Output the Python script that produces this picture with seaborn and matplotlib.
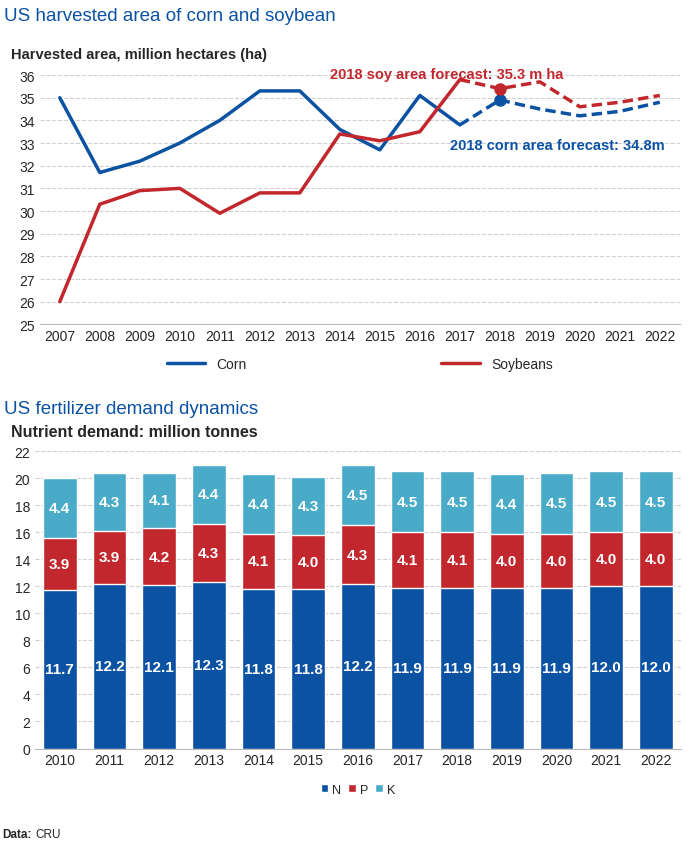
import matplotlib
matplotlib.use("Agg")
import matplotlib.pyplot as plt
import numpy as np
import pandas as pd
import seaborn as sns

sns.set_style("white")
plt.rcParams['font.family'] = ['Liberation Sans', 'DejaVu Sans']

blue = '#0b52a3'
red = '#c1272d'
cyan = '#4aabc8'

years = list(range(2007, 2023))
corn = [35.0, 31.7, 32.2, 33.0, 34.0, 35.3, 35.3, 33.6, 32.7, 35.1, 33.8, 34.9, 34.5, 34.2, 34.4, 34.8]
soy = [26.0, 30.3, 30.9, 31.0, 29.9, 30.8, 30.8, 33.4, 33.1, 33.5, 35.8, 35.4, 35.7, 34.6, 34.8, 35.1]
area = pd.DataFrame({'year': years, 'Corn': corn, 'Soybeans': soy})

fert = pd.DataFrame({
    'year': list(range(2010, 2023)),
    'N': [11.7, 12.2, 12.1, 12.3, 11.8, 11.8, 12.2, 11.9, 11.9, 11.9, 11.9, 12.0, 12.0],
    'P': [3.9, 3.9, 4.2, 4.3, 4.1, 4.0, 4.3, 4.1, 4.1, 4.0, 4.0, 4.0, 4.0],
    'K': [4.4, 4.3, 4.1, 4.4, 4.4, 4.3, 4.5, 4.5, 4.5, 4.4, 4.5, 4.5, 4.5],
})

fig = plt.figure(figsize=(6.98, 8.45), dpi=100)

# ---- top chart
ax1 = fig.add_axes([0.057, 0.615, 0.917, 0.295])
hist = area[area.year <= 2017]
fc = area[area.year >= 2017]
x_h = [years.index(y) for y in hist.year]
x_f = [years.index(y) for y in fc.year]
sns.lineplot(x=x_h, y=hist.Corn, ax=ax1, color=blue, lw=2.5, label='Corn')
sns.lineplot(x=x_h, y=hist.Soybeans, ax=ax1, color=red, lw=2.5, label='Soybeans')
ax1.plot(x_f, fc.Corn, color=blue, lw=2.5, ls=(0, (3, 1.5)))
ax1.plot(x_f, fc.Soybeans, color=red, lw=2.5, ls=(0, (3, 1.5)))
i18 = years.index(2018)
ax1.plot(i18, area.Corn[i18], 'o', color=blue, ms=8)
ax1.plot(i18, area.Soybeans[i18], 'o', color=red, ms=8)
ax1.text(6.75, 35.75, '2018 soy area forecast: 35.3 m ha', color=red, fontsize=10.5, fontweight='bold', va='bottom')
ax1.text(9.75, 32.9, '2018 corn area forecast: 34.8m', color=blue, fontsize=10.5, fontweight='bold', va='center')
ax1.set_ylim(25, 36)
ax1.set_yticks(range(25, 37))
ax1.set_xlim(-0.5, len(years) - 0.5)
ax1.set_xticks(range(len(years)))
ax1.set_xticklabels(years)
ax1.tick_params(labelsize=10, length=0)
ax1.yaxis.grid(True, color='#d0d0d0', ls='--', lw=0.8)
ax1.set_axisbelow(True)
for s in ['top', 'right', 'left']:
    ax1.spines[s].set_visible(False)
ax1.spines['bottom'].set_color('#bbbbbb')
ax1.set_xlabel('')
ax1.set_ylabel('')
ax1.legend(loc='upper center', bbox_to_anchor=(0.5, -0.08), ncol=2, frameon=False,
           fontsize=10, columnspacing=14, handlelength=2.8)

fig.text(0.006, 0.99, 'US harvested area of corn and soybean', color=blue, fontsize=13.5, va='top')
fig.text(0.016, 0.943, 'Harvested area, million hectares (ha)', fontsize=10.5, fontweight='bold', va='top')

# ---- bottom chart
fig.text(0.006, 0.525, 'US fertilizer demand dynamics', color=blue, fontsize=13.5, va='top')
fig.text(0.016, 0.497, 'Nutrient demand: million tonnes', fontsize=11.5, fontweight='bold', va='top')
ax2 = fig.add_axes([0.05, 0.113, 0.925, 0.352])
xs = np.arange(len(fert))
bottom = np.zeros(len(fert))
for col, c in [('N', blue), ('P', red), ('K', cyan)]:
    sns.barplot(x=xs, y=fert[col] + bottom, ax=ax2, color=c, width=0.68, label=col, saturation=1,
                order=xs, native_scale=True, zorder=3 if col == 'N' else (2 if col == 'P' else 1))
    for i, v in enumerate(fert[col]):
        ax2.text(xs[i], bottom[i] + v / 2, f'{v:.1f}', ha='center', va='center',
                 color='white', fontsize=11, fontweight='bold', zorder=5)
    bottom = bottom + fert[col].values
ax2.set_ylim(0, 22)
ax2.set_yticks(range(0, 23, 2))
ax2.set_xlim(-0.5, len(fert) - 0.5)
ax2.set_xticks(xs)
ax2.set_xticklabels(fert.year)
ax2.tick_params(labelsize=10, length=0)
ax2.yaxis.grid(True, color='#d0d0d0', ls='--', lw=0.8)
ax2.set_axisbelow(True)
for s in ['top', 'right', 'left']:
    ax2.spines[s].set_visible(False)
ax2.spines['bottom'].set_color('#bbbbbb')
ax2.set_xlabel('')
ax2.set_ylabel('')
ax2.legend(loc='upper center', bbox_to_anchor=(0.5, -0.08), ncol=3, frameon=False,
           fontsize=9, handlelength=0.6, handleheight=0.6, columnspacing=0.6, handletextpad=0.3)

fig.text(0.003, 0.008, 'Data:', fontsize=8.5, fontweight='bold')
fig.text(0.05, 0.008, 'CRU', fontsize=8.5)
fig.savefig('out.png', dpi=100)
